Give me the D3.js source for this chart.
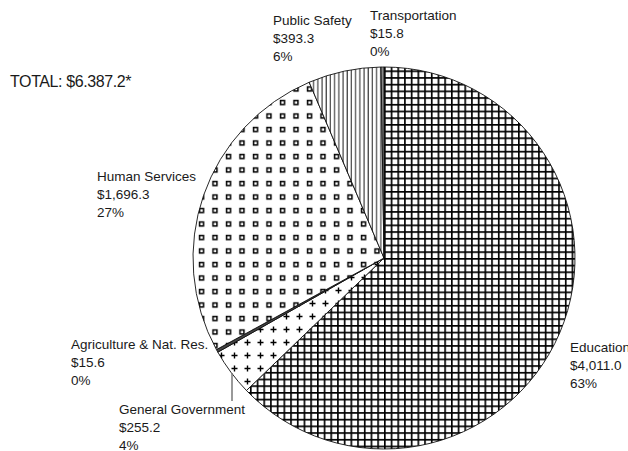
<!DOCTYPE html>
<html>
<head>
<meta charset="utf-8">
<script src="https://cdn.jsdelivr.net/npm/d3@7"></script>
<style>
  body { margin: 0; background: #fff; }
  text { font-family: "Liberation Sans", Arial, sans-serif; fill: #1a1a1a; }
</style>
</head>
<body>
<div class="chart-container"></div>
<script>
// Data (millions)
const categories = ['Education', 'General Government', 'Agriculture & Nat. Res.', 'Human Services', 'Public Safety', 'Transportation'];
const amounts = [4011.0, 255.2, 15.6, 1696.3, 393.3, 15.8];
const amountLabels = ['$4,011.0', '$255.2', '$15.6', '$1,696.3', '$393.3', '$15.8'];
const percentLabels = ['63%', '4%', '0%', '27%', '6%', '0%'];
const totalLabel = 'TOTAL: $6.387.2*';

// Dimensions
const width = 628, height = 451;
const cx = 384, cy = 258, radius = 191;

// label anchors (x, first baseline)
const labelPos = [[570, 352], [119, 414], [71, 349], [97, 181], [273, 25], [370, 20]];
const lineGap = 18;

const svg = d3.select('.chart-container')
    .append('svg')
        .attr('width', width)
        .attr('height', height);

// Build patterns.
const defs = svg.append('defs');

// fine grid for Education
const grid = defs.append('pattern')
    .attr('id', 'grid')
    .attr('patternUnits', 'userSpaceOnUse')
    .attr('width', 6.7).attr('height', 6.7);
grid.append('rect').attr('width', 6.7).attr('height', 6.7).attr('fill', '#fff');
grid.append('path')
    .attr('d', 'M0.8,0V6.7M0,0.8H6.7')
    .attr('stroke', '#000').attr('stroke-width', 1.7);

// plus signs for General Government
const plus = defs.append('pattern')
    .attr('id', 'plus')
    .attr('patternUnits', 'userSpaceOnUse')
    .attr('width', 13).attr('height', 13);
plus.append('rect').attr('width', 13).attr('height', 13).attr('fill', '#fff');
plus.append('path')
    .attr('d', 'M6.5,3.5V9.5M3.5,6.5H9.5')
    .attr('stroke', '#000').attr('stroke-width', 1.4);

// hollow squares for Human Services
const squares = defs.append('pattern')
    .attr('id', 'squares')
    .attr('patternUnits', 'userSpaceOnUse')
    .attr('width', 13.5).attr('height', 13.5);
squares.append('rect').attr('width', 13.5).attr('height', 13.5).attr('fill', '#fff');
squares.append('rect')
    .attr('x', 4.5).attr('y', 4.5).attr('width', 4).attr('height', 4)
    .attr('fill', 'none').attr('stroke', '#000').attr('stroke-width', 1.5);

// vertical lines for Public Safety
const vlines = defs.append('pattern')
    .attr('id', 'vlines')
    .attr('patternUnits', 'userSpaceOnUse')
    .attr('width', 4.2).attr('height', 10);
vlines.append('rect').attr('width', 4.2).attr('height', 10).attr('fill', '#fff');
vlines.append('path')
    .attr('d', 'M1,0V10')
    .attr('stroke', '#000').attr('stroke-width', 0.9);

const fills = ['url(#grid)', 'url(#plus)', '#444', 'url(#squares)', 'url(#vlines)', '#888'];

// Build pie.
const pie = d3.pie().sort(null).value(d => d);
const arc = d3.arc().innerRadius(0).outerRadius(radius);

const g = svg.append('g').attr('transform', `translate(${cx}, ${cy})`);

g.selectAll('path')
    .data(pie(amounts))
    .join('path')
        .attr('d', arc)
        .attr('fill', (d, i) => fills[i])
        .attr('stroke', '#111')
        .attr('stroke-width', 0.9)
        .attr('stroke-linejoin', 'round');

// Leader line for General Government.
svg.append('line')
    .attr('x1', 232).attr('y1', 373)
    .attr('x2', 232).attr('y2', 401)
    .attr('stroke', '#777')
    .attr('stroke-width', 1.5);

// Labels.
const labels = svg.append('g').attr('class', 'labels');
categories.forEach((c, i) => {
    const [x, y] = labelPos[i];
    const t = labels.append('text')
        .attr('x', x).attr('y', y)
        .attr('font-size', 13.5);
    [c, amountLabels[i], percentLabels[i]].forEach((s, k) => {
        t.append('tspan').attr('x', x).attr('y', y + k * lineGap).text(s);
    });
});

svg.append('text')
    .attr('x', 10).attr('y', 87)
    .attr('font-size', 16)
    .attr('letter-spacing', -0.4)
    .text(totalLabel);
</script>
</body>
</html>
